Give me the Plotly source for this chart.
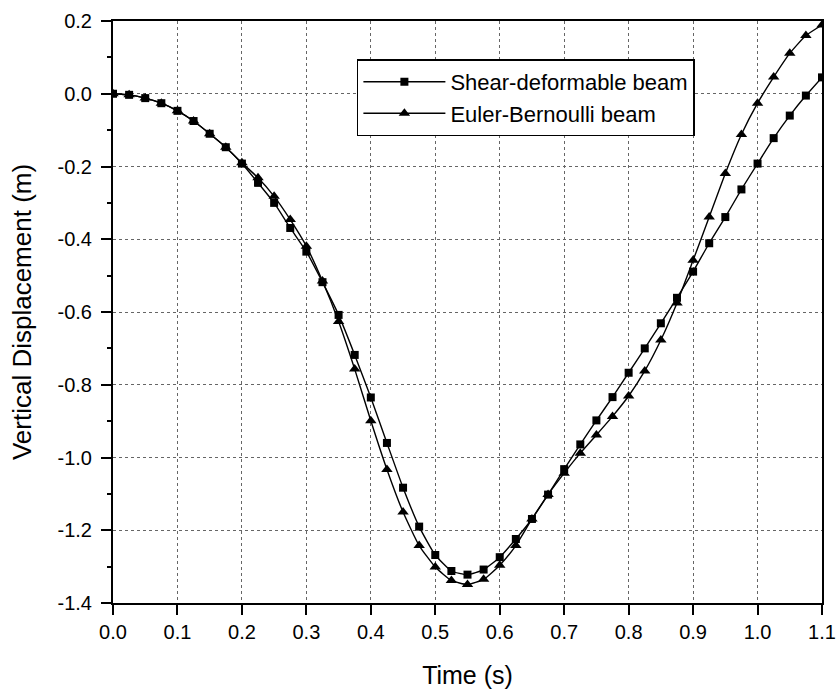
import plotly.graph_objects as go

time_s = [0.0, 0.025, 0.05, 0.075, 0.1, 0.125, 0.15, 0.175, 0.2, 0.225,
          0.25, 0.275, 0.3, 0.325, 0.35, 0.375, 0.4, 0.425, 0.45, 0.475,
          0.5, 0.525, 0.55, 0.575, 0.6, 0.625, 0.65, 0.675, 0.7, 0.725,
          0.75, 0.775, 0.8, 0.825, 0.85, 0.875, 0.9, 0.925, 0.95, 0.975,
          1.0, 1.025, 1.05, 1.075, 1.1]

shear_beam = [0.0, -0.003, -0.012, -0.026, -0.047, -0.075, -0.110, -0.147, -0.192, -0.245,
              -0.300, -0.369, -0.434, -0.518, -0.608, -0.718, -0.835, -0.960, -1.083, -1.190,
              -1.268, -1.312, -1.322, -1.308, -1.274, -1.224, -1.169, -1.102, -1.032, -0.964,
              -0.898, -0.834, -0.767, -0.700, -0.631, -0.561, -0.489, -0.411, -0.339, -0.263,
              -0.192, -0.122, -0.060, -0.005, 0.045]

euler_beam = [0.0, -0.003, -0.012, -0.026, -0.047, -0.075, -0.110, -0.147, -0.190, -0.231,
              -0.282, -0.346, -0.419, -0.515, -0.626, -0.757, -0.899, -1.033, -1.150, -1.242,
              -1.301, -1.338, -1.349, -1.335, -1.296, -1.242, -1.169, -1.102, -1.043, -0.988,
              -0.938, -0.887, -0.831, -0.762, -0.677, -0.575, -0.458, -0.339, -0.219, -0.112,
              -0.026, 0.046, 0.111, 0.160, 0.189]

x_ticks = [0.0, 0.1, 0.2, 0.3, 0.4, 0.5, 0.6, 0.7, 0.8, 0.9, 1.0, 1.1]
y_ticks = [0.2, 0.0, -0.2, -0.4, -0.6, -0.8, -1.0, -1.2, -1.4]

FONT = "Arial, Liberation Sans, sans-serif"

fig = go.Figure()
fig.add_trace(go.Scatter(
    x=time_s, y=shear_beam, name="Shear-deformable beam",
    mode="lines+markers",
    line=dict(color="black", width=1.4, shape="spline", smoothing=0.5),
    marker=dict(symbol="square", size=8, color="black"),
))
fig.add_trace(go.Scatter(
    x=time_s, y=euler_beam, name="Euler-Bernoulli beam",
    mode="lines+markers",
    line=dict(color="black", width=1.4, shape="spline", smoothing=0.5),
    marker=dict(symbol="triangle-up", size=10, color="black"),
))

fig.update_layout(
    width=840, height=696,
    margin=dict(l=113, r=18, t=21, b=93),
    paper_bgcolor="white", plot_bgcolor="white",
    font=dict(family=FONT, color="black", size=20),
    showlegend=True,
    legend=dict(
        x=0.344, y=0.934, xanchor="left", yanchor="top",
        bordercolor="black", borderwidth=1.5, bgcolor="white",
        font=dict(size=22, family=FONT),
        tracegroupgap=0, itemwidth=82,
        entrywidth=300, entrywidthmode="pixels",
    ),
    xaxis=dict(
        range=[0, 1.1], tickvals=x_ticks,
        ticktext=[f"{v:.1f}" for v in x_ticks],
        showline=True, linecolor="black", linewidth=2, mirror=True,
        ticks="outside", ticklen=10, tickwidth=1.5, tickcolor="black",
        showgrid=True, gridcolor="#666", griddash="dot", gridwidth=1,
        zeroline=False, automargin=False,
        title=dict(text="Time (s)", font=dict(size=25, family=FONT), standoff=24),
        tickfont=dict(size=20, family=FONT),
    ),
    yaxis=dict(
        range=[-1.4, 0.2], tickvals=y_ticks,
        ticktext=[f"{v:.1f}" for v in y_ticks],
        showline=True, linecolor="black", linewidth=2, mirror=True,
        ticks="outside", ticklen=10, tickwidth=1.5, tickcolor="black",
        ticklabelstandoff=5,
        minor=dict(dtick=0.1, tick0=0, ticks="outside", ticklen=4,
                   tickcolor="black", tickwidth=1.5, showgrid=False),
        showgrid=True, gridcolor="#666", griddash="dot", gridwidth=1,
        zeroline=False, automargin=False,
        title=dict(text="Vertical Displacement (m)", font=dict(size=26, family=FONT), standoff=18),
        tickfont=dict(size=20, family=FONT),
    ),
)

fig.write_html("out.html")
